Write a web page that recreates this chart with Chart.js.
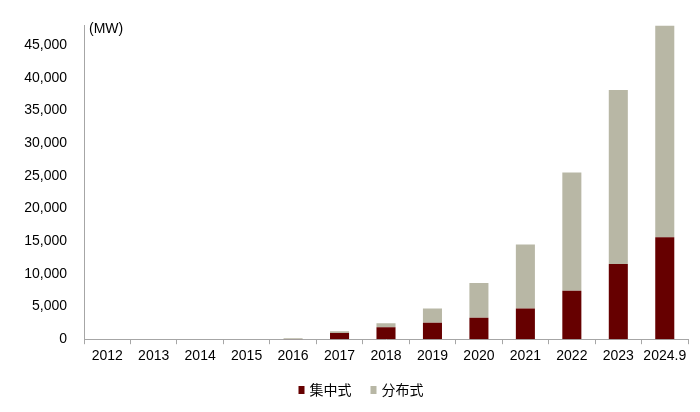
<!DOCTYPE html>
<html>
<head>
<meta charset="utf-8">
<script src="https://cdn.jsdelivr.net/npm/chart.js@4"></script>
<style>
html,body{margin:0;padding:0;background:#fff;}
#wrap{width:700px;height:412px;}
</style>
</head>
<body>
<div id="wrap"><canvas id="c" width="700" height="412"></canvas></div>
<script>
const categories = ['2012','2013','2014','2015','2016','2017','2018','2019','2020','2021','2022','2023','2024.9'];
const centralized = [0, 0, 0, 0, 40, 960, 1840, 2500, 3300, 4700, 7400, 11500, 15600];
const distributed = [0, 0, 0, 0, 110, 240, 610, 2200, 5300, 9800, 18100, 26600, 32400];
const seriesNames = ['集中式', '分布式'];
const seriesColors = ['#660000', '#B8B7A5'];
const yTicks = [0, 5000, 10000, 15000, 20000, 25000, 30000, 35000, 40000, 45000];
const unitLabel = '(MW)';

const FONT = '"Liberation Sans", Arial, "Noto Sans CJK SC", sans-serif';
const CJK = '"Noto Sans CJK SC", "Liberation Sans", sans-serif';

const unitPlugin = {
  id: 'unit',
  afterDraw(chart) {
    const ctx = chart.ctx;
    const a = chart.chartArea;
    ctx.save();
    ctx.font = '14px ' + FONT;
    ctx.fillStyle = '#000';
    ctx.textAlign = 'left';
    ctx.textBaseline = 'top';
    ctx.fillText(unitLabel, a.left + 5, a.top - 3);

    // legend
    ctx.font = '14px ' + CJK;
    ctx.textBaseline = 'middle';
    const boxW = 6, boxH = 8, gap = 5, itemGap = 19;
    const widths = seriesNames.map(n => ctx.measureText(n).width);
    let total = 0;
    widths.forEach((w, i) => { total += boxW + gap + w + (i < widths.length - 1 ? itemGap : 0); });
    let x = chart.width / 2 + 11 - total / 2;
    const cy = 390;
    seriesNames.forEach((n, i) => {
      ctx.fillStyle = seriesColors[i];
      ctx.fillRect(x, cy - boxH / 2, boxW, boxH);
      x += boxW + gap;
      ctx.fillStyle = '#000';
      ctx.fillText(n, x, cy);
      x += widths[i] + itemGap;
    });
    ctx.restore();
  }
};

new Chart(document.getElementById('c'), {
  type: 'bar',
  data: {
    labels: categories,
    datasets: [
      { label: seriesNames[0], data: centralized, backgroundColor: seriesColors[0], barPercentage: 0.41, categoryPercentage: 1.0 },
      { label: seriesNames[1], data: distributed, backgroundColor: seriesColors[1], barPercentage: 0.41, categoryPercentage: 1.0 }
    ]
  },
  options: {
    responsive: false,
    animation: false,
    devicePixelRatio: 1,
    layout: { padding: { left: 0, right: 12, top: 24, bottom: 43 } },
    plugins: {
      legend: { display: false },
      tooltip: { enabled: false },
      title: { display: false }
    },
    scales: {
      x: {
        stacked: true,
        grid: { display: true, drawOnChartArea: false, drawTicks: true, tickLength: 5, color: '#A6A6A6', offset: true },
        border: { display: true, color: '#A6A6A6', width: 1 },
        ticks: { font: { family: FONT, size: 14 }, color: '#000', padding: 4, maxRotation: 0, autoSkip: false }
      },
      y: {
        stacked: true,
        min: 0,
        max: 48000,
        afterBuildTicks(scale) {
          scale.ticks = yTicks.map(v => ({ value: v }));
        },
        afterFit(scale) { scale.width = 84; },
        grid: { display: false, drawTicks: false },
        border: { display: true, color: '#A6A6A6', width: 1 },
        ticks: {
          font: { family: FONT, size: 14 },
          color: '#000',
          padding: 17,
          callback: (v) => v.toLocaleString('en-US')
        }
      }
    }
  },
  plugins: [unitPlugin]
});
</script>
</body>
</html>
